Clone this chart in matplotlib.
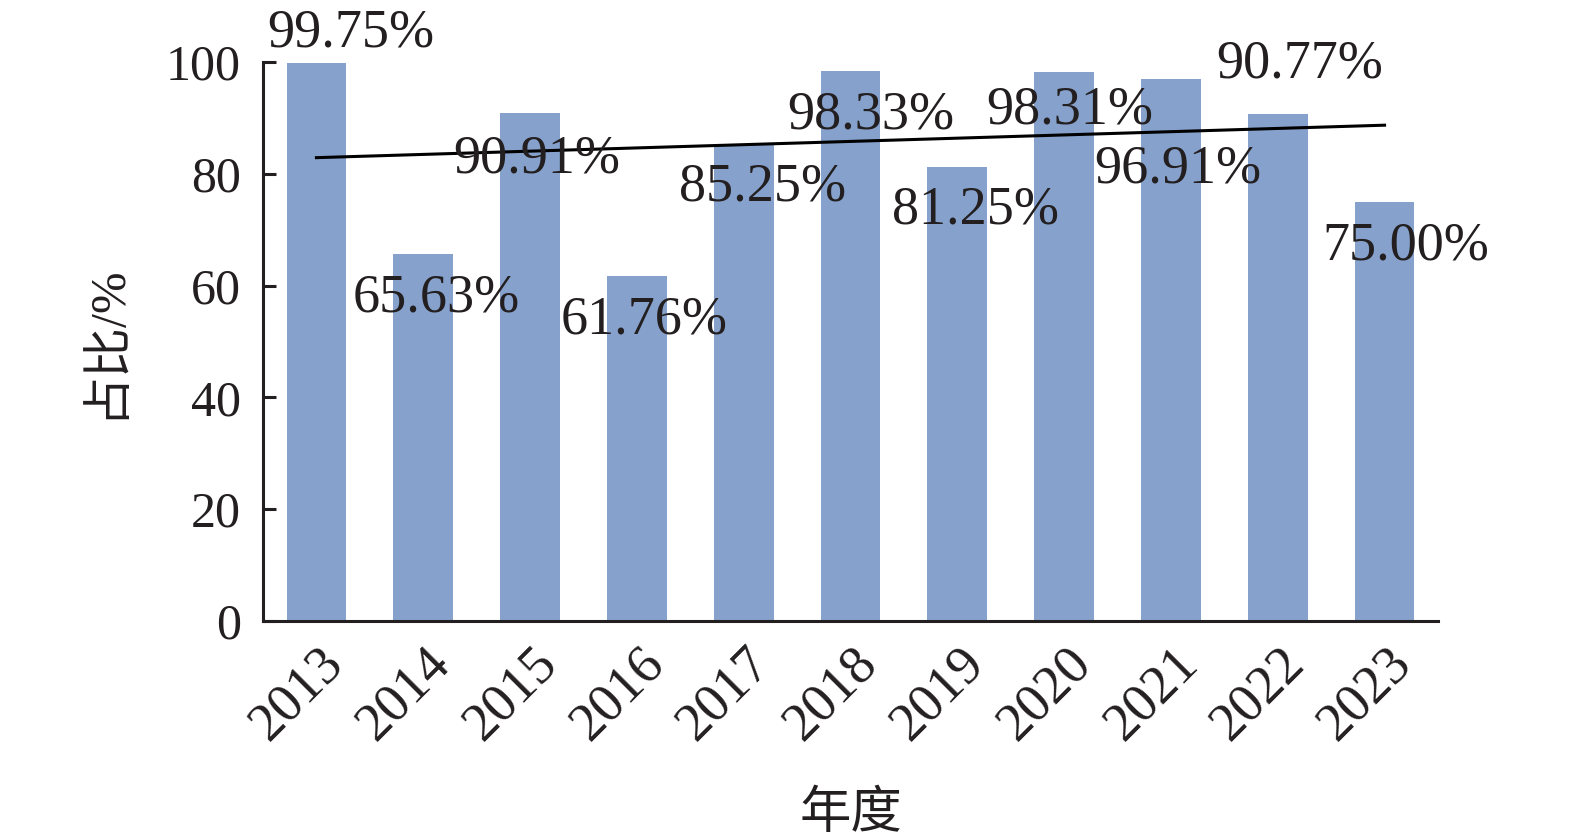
import matplotlib
matplotlib.use("Agg")
import matplotlib.pyplot as plt
import matplotlib.transforms as mtrans
import numpy as np

plt.rcParams['font.family'] = ['Liberation Serif', 'Noto Sans CJK SC']

years = ['2013', '2014', '2015', '2016', '2017', '2018',
         '2019', '2020', '2021', '2022', '2023']
share = [99.75, 65.63, 90.91, 61.76, 85.25, 98.33,
         81.25, 98.31, 96.91, 90.77, 75.00]
# where each value label sits (x shift in categories, baseline y)
lab_dx = [0.32, 0.12, 0.06, 0.07, 0.18, 0.19, 0.17, 0.05, 0.06, 0.21, 0.20]
lab_y = [102.7, 55.3, 80.3, 51.5, 75.3, 88.2, 71.2, 89.1, 78.4, 97.3, 64.6]

ink = '#231f20'
fig = plt.figure(figsize=(15.75, 8.39), dpi=100)
ax = fig.add_axes([0.167, 0.2598, 0.746, 0.6662])

x = np.arange(len(years))
ax.bar(x, share, width=0.56, color='#86a2cc', zorder=1)

# linear trend line
k, b = np.polyfit(x, share, 1)
ax.plot(x[[0, -1]], k * x[[0, -1]] + b, color='black', lw=2.2, zorder=3)

for i, v in enumerate(share):
    ax.text(x[i] + lab_dx[i], lab_y[i], '%.2f%%' % v, ha='center',
            va='baseline', fontsize=39, color=ink, zorder=4)

ax.set_xlim(-0.5, len(years) - 0.5)
ax.set_ylim(0, 100)
ax.set_yticks([0, 20, 40, 60, 80, 100])
ax.set_xticks(x)
ax.tick_params(axis='x', length=0, pad=12)
ax.tick_params(axis='y', direction='in', length=9, width=2.2, color=ink,
               labelsize=36, labelcolor=ink, pad=16)
ax.set_xticklabels(years, rotation=45, ha='right', fontsize=39, color=ink)
off = mtrans.ScaledTranslation(0.37, 0, fig.dpi_scale_trans)
for t in ax.get_xticklabels():
    t.set_transform(t.get_transform() + off)

for s in ['top', 'right']:
    ax.spines[s].set_visible(False)
for s in ['left', 'bottom']:
    ax.spines[s].set_linewidth(2.2)
    ax.spines[s].set_color(ink)

ax.set_ylabel('占比/%', fontsize=36, color=ink, labelpad=26)
ax.set_xlabel('年度', fontsize=37, color=ink, labelpad=30)

fig.savefig('out.png', dpi=100)
